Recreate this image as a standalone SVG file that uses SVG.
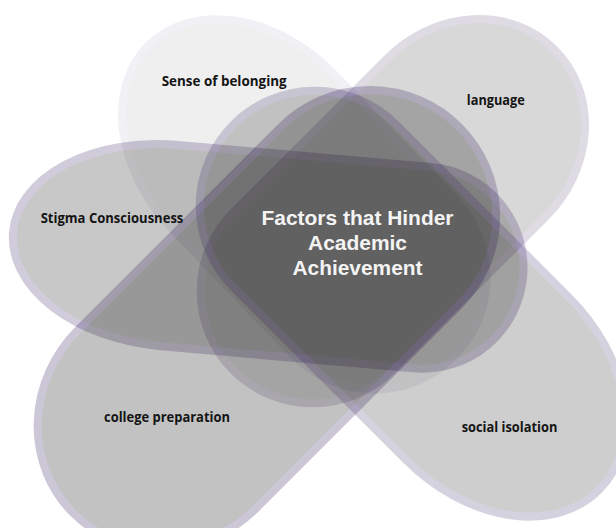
<svg xmlns="http://www.w3.org/2000/svg" width="616" height="528" viewBox="0 0 616 528">
  <style>
    .petal { fill: #000000; stroke: rgb(40,20,90); stroke-width: 8; }
    .lbl { font-family: "Open Sans", "Liberation Sans", sans-serif; font-weight: 700; font-size: 13.5px; fill: #141414; text-anchor: middle; }
    .title { font-family: "Liberation Sans", Arial, sans-serif; font-weight: 700; font-size: 21px; fill: #f4f4f4; text-anchor: middle; }
  </style>
  <rect width="616" height="528" fill="#ffffff"/>
  <g id="sense-of-belonging" opacity="0.06">
    <path class="petal" transform="translate(299,199) rotate(46)" d="M -65,-112 L 109,-112 A 112 112 0 0 1 109,112 L -65,112 A 150 112 0 0 1 -65,-112 Z"/>
  </g>
  <g id="language" opacity="0.15">
    <path class="petal" transform="translate(394,210) rotate(-45)" d="M -115,-112 L 103,-112 A 124 112 0 0 1 103,112 L -115,112 A 112 112 0 0 1 -115,-112 Z"/>
  </g>
  <g id="stigma-consciousness" opacity="0.21">
    <path class="petal" transform="translate(269.1,254.3) rotate(5)" d="M -100,-101 L 154,-101 A 101 101 0 0 1 154,101 L -100,101 A 157 101 0 0 1 -100,-101 Z"/>
  </g>
  <g id="college-preparation" opacity="0.235">
    <path class="petal" transform="translate(266.2,320) rotate(-45)" d="M -140,-126 L 147,-126 A 126 126 0 0 1 147,126 L -140,126 A 133 126 0 0 1 -140,-126 Z"/>
  </g>
  <g id="social-isolation" opacity="0.19">
    <path class="petal" transform="translate(314.7,205.8) rotate(45)" d="M 0,-115 L 245,-115 A 157 115 0 0 1 245,115 L 0,115 A 115 115 0 0 1 0,-115 Z"/>
  </g>
  <g id="connectors"></g>
  <g id="labels">
    <text class="lbl" x="224.2" y="85.5" textLength="125" lengthAdjust="spacingAndGlyphs">Sense of belonging</text>
    <text class="lbl" x="495.8" y="104.5" textLength="58" lengthAdjust="spacingAndGlyphs">language</text>
    <text class="lbl" x="112" y="223.3" textLength="142.7" lengthAdjust="spacingAndGlyphs">Stigma Consciousness</text>
    <text class="lbl" x="167" y="422.3" textLength="126" lengthAdjust="spacingAndGlyphs">college preparation</text>
    <text class="lbl" x="509.5" y="432.3" textLength="95.7" lengthAdjust="spacingAndGlyphs">social isolation</text>
  </g>
  <g id="center">
    <text class="title" x="357.5" y="224.5" textLength="192" lengthAdjust="spacingAndGlyphs">Factors that Hinder</text>
    <text class="title" x="357.5" y="249.5" textLength="99" lengthAdjust="spacingAndGlyphs">Academic</text>
    <text class="title" x="357.5" y="274.5" textLength="130" lengthAdjust="spacingAndGlyphs">Achievement</text>
  </g>
</svg>
